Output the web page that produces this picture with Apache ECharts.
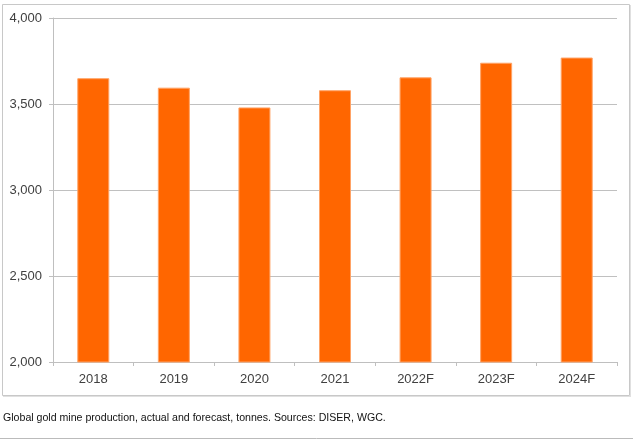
<!DOCTYPE html>
<html>
<head>
<meta charset="utf-8">
<script src="https://cdn.jsdelivr.net/npm/echarts@6/dist/echarts.min.js"></script>
<style>
html,body{margin:0;padding:0;background:#fff;}
#c{width:640px;height:441px;}
</style>
</head>
<body>
<div id="c"></div>
<script>
var categories = ['2018', '2019', '2020', '2021', '2022F', '2023F', '2024F'];
var production = [3650, 3595, 3480, 3580, 3655, 3740, 3770];
var yTicks = [2000, 2500, 3000, 3500, 4000];
var caption = 'Global gold mine production, actual and forecast, tonnes. Sources: DISER, WGC.';

var chart = echarts.init(document.getElementById('c'), null, {renderer: 'canvas'});
chart.setOption({
  animation: false,
  backgroundColor: '#ffffff',
  grid: {left: 53, right: 23, top: 18, bottom: 79, containLabel: false},
  xAxis: {
    type: 'category',
    data: categories,
    boundaryGap: true,
    axisLine: {show: true, lineStyle: {color: '#BFBFBF', width: 1}},
    axisTick: {show: true, length: 4, alignWithLabel: false, lineStyle: {color: '#BFBFBF'}},
    axisLabel: {color: '#404040', fontFamily: 'Liberation Sans, Arial, sans-serif', fontSize: 13, margin: 11},
    splitLine: {show: false}
  },
  yAxis: {
    type: 'value',
    min: yTicks[0],
    max: yTicks[yTicks.length - 1],
    interval: yTicks[1] - yTicks[0],
    axisLine: {show: true, lineStyle: {color: '#BFBFBF', width: 1}},
    axisTick: {show: true, length: 4, lineStyle: {color: '#BFBFBF'}},
    axisLabel: {
      color: '#404040', fontFamily: 'Liberation Sans, Arial, sans-serif', fontSize: 13, margin: 11,
      formatter: function (v) { return v.toLocaleString('en-US'); }
    },
    splitLine: {show: true, lineStyle: {color: '#C0C0C0', width: 1}}
  },
  series: [{
    type: 'bar',
    data: production,
    barWidth: 32,
    itemStyle: {color: '#FF6600', borderColor: '#FFA366', borderWidth: 1}
  }],
  graphic: [
    {type: 'rect', shape: {x: 2.5, y: 4.5, width: 627, height: 391}, style: {fill: null, stroke: '#C8C8C8', lineWidth: 1}, z: -1},
    {type: 'line', shape: {x1: 630.5, y1: 5, x2: 630.5, y2: 396.5}, style: {stroke: '#E0E0E0', lineWidth: 1}, z: -1},
    {type: 'line', shape: {x1: 3, y1: 396.5, x2: 631, y2: 396.5}, style: {stroke: '#E0E0E0', lineWidth: 1}, z: -1},
    {type: 'text', left: 3, top: 413, style: {text: caption, font: '10.6px "Liberation Sans", Arial, sans-serif', fill: '#111111'}},
    {type: 'line', shape: {x1: 0, y1: 438.5, x2: 633, y2: 438.5}, style: {stroke: '#BBBBBB', lineWidth: 1}}
  ]
});
</script>
</body>
</html>
